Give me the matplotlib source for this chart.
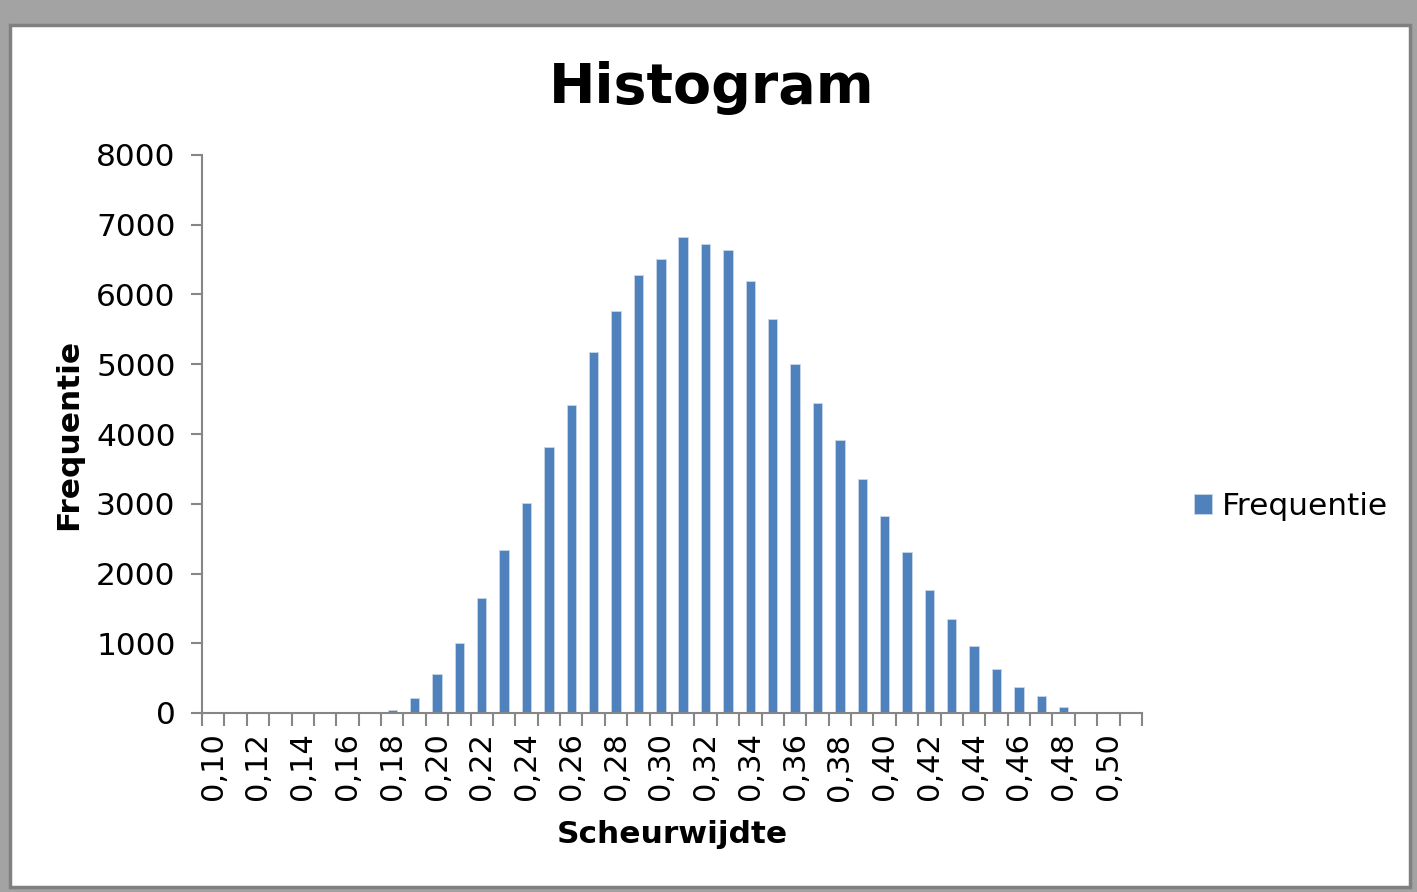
import matplotlib
matplotlib.use('Agg')
import matplotlib.pyplot as plt
from matplotlib.patches import Rectangle
import numpy as np

# bins (Scheurwijdte) 0,10 .. 0,50 plus the Excel "Meer" bin
bins = [f"0,{i:02d}" for i in range(10, 51)] + ["Meer"]
frequentie = [0, 0, 0, 0, 0, 0, 0, 0, 50, 220,
              560, 1000, 1650, 2330, 3010, 3820, 4420, 5170, 5760, 6275,
              6510, 6830, 6720, 6640, 6190, 5650, 5000, 4440, 3910, 3355,
              2820, 2310, 1760, 1350, 965, 625, 370, 240, 90, 0,
              0, 0]

bar_color = "#4F81BD"
axis_color = "#868686"

fig = plt.figure(figsize=(14.17, 8.92), dpi=100)
fig.patch.set_facecolor("#a3a3a3")

# white chart panel with gray frame, drawn in its own background axes
bg = fig.add_axes([0, 0, 1, 1], zorder=0)
bg.set_axis_off()
bg.set_xlim(0, 1417)
bg.set_ylim(892, 0)
bg.add_patch(Rectangle((10, 25), 1400, 862, facecolor="white", edgecolor="#808080", linewidth=2.5))

ax = fig.add_axes([202 / 1417, 1 - 713 / 892, 940 / 1417, 558 / 892], zorder=1)
x = np.arange(len(bins))
ax.bar(x, frequentie, width=0.42, color=bar_color, edgecolor="#c9d7ea", linewidth=0.6, label="Frequentie")

ax.set_xlim(-0.5, len(bins) - 0.5)
ax.set_ylim(0, 8000)
ax.set_yticks(range(0, 8001, 1000))
ax.tick_params(axis="y", labelsize=22.5, length=8, width=1.5, color=axis_color, pad=11)

# ticks between categories, labels on every other category
ax.set_xticks(np.arange(-0.5, len(bins), 1.0))
ax.set_xticklabels([])
ax.set_xticks(x[::2], minor=True)
ax.set_xticklabels([bins[i] for i in x[::2]], minor=True, rotation=90, fontsize=22)
ax.tick_params(axis="x", which="major", length=9, width=1.5, color=axis_color)
ax.tick_params(axis="x", which="minor", length=0, pad=14)

for side in ["top", "right"]:
    ax.spines[side].set_visible(False)
for side in ["left", "bottom"]:
    ax.spines[side].set_color(axis_color)
    ax.spines[side].set_linewidth(1.5)
ax.patch.set_alpha(0)

ax.set_ylabel("Frequentie", fontsize=22.5, fontweight="bold", labelpad=9)
ax.set_xlabel("Scheurwijdte", fontsize=22.5, fontweight="bold", labelpad=14)
fig.text(712 / 1417, 1 - 88 / 892, "Histogram", fontsize=40, fontweight="bold",
         ha="center", va="center")

ax.legend(loc="center left", bbox_to_anchor=(1.025, 0.37), frameon=False, fontsize=22.5,
          handlelength=0.6, handleheight=0.6, handletextpad=0.3)

fig.savefig("out.png", dpi=100, facecolor=fig.get_facecolor())
